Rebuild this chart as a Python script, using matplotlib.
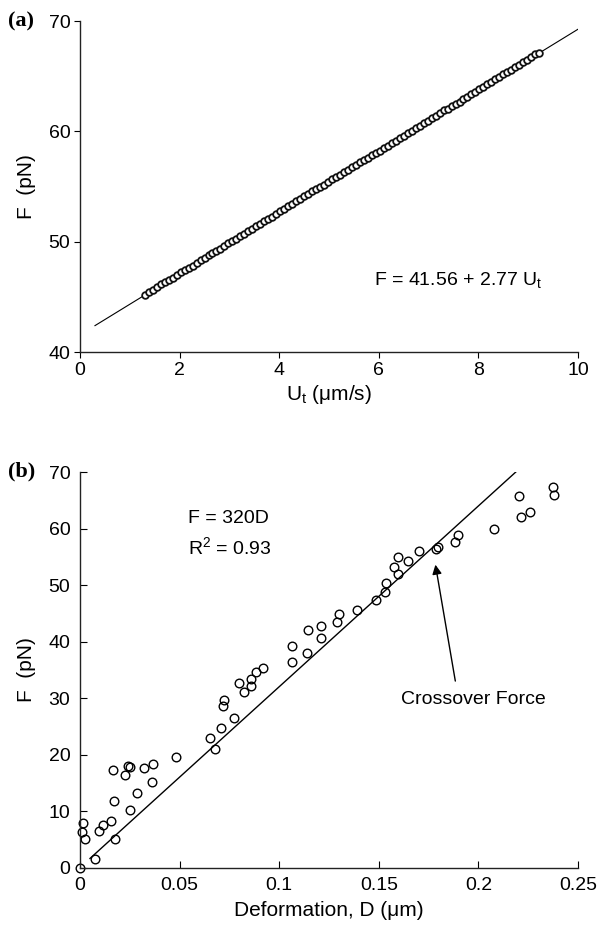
import numpy as np
import matplotlib
matplotlib.use("Agg")
import matplotlib.pyplot as plt

plt.rcParams['font.family'] = ['Liberation Sans', 'DejaVu Sans']
plt.rcParams['mathtext.fontset'] = 'custom'
plt.rcParams['mathtext.rm'] = 'Liberation Sans'

# panel (a): terminal velocity vs force
u_t = [1.30, 1.38, 1.46, 1.54, 1.62, 1.70, 1.78, 1.86, 1.94, 2.02,
       2.10, 2.18, 2.26, 2.34, 2.42, 2.50, 2.58, 2.66, 2.74, 2.82,
       2.90, 2.98, 3.06, 3.14, 3.22, 3.30, 3.38, 3.46, 3.54, 3.62,
       3.70, 3.78, 3.86, 3.94, 4.02, 4.10, 4.18, 4.26, 4.34, 4.42,
       4.50, 4.58, 4.66, 4.74, 4.82, 4.90, 4.98, 5.06, 5.14, 5.22,
       5.30, 5.38, 5.46, 5.54, 5.62, 5.70, 5.78, 5.86, 5.94, 6.02,
       6.10, 6.18, 6.26, 6.34, 6.42, 6.50, 6.58, 6.66, 6.74, 6.82,
       6.90, 6.98, 7.06, 7.14, 7.22, 7.30, 7.38, 7.46, 7.54, 7.62,
       7.70, 7.78, 7.86, 7.94, 8.02, 8.10, 8.18, 8.26, 8.34, 8.42,
       8.50, 8.58, 8.66, 8.74, 8.82, 8.90, 8.98, 9.06, 9.14, 9.22]
f_a = [45.21, 45.40, 45.66, 45.86, 46.13, 46.31, 46.56, 46.73, 47.02, 47.21,
       47.39, 47.64, 47.80, 48.07, 48.32, 48.51, 48.78, 48.96, 49.20, 49.38,
       49.63, 49.89, 50.09, 50.28, 50.55, 50.73, 51.00, 51.18, 51.46, 51.64,
       51.83, 52.09, 52.28, 52.55, 52.82, 52.99, 53.24, 53.41, 53.67, 53.84,
       54.11, 54.28, 54.57, 54.75, 55.00, 55.18, 55.43, 55.70, 55.89, 56.07,
       56.32, 56.50, 56.75, 56.94, 57.19, 57.44, 57.62, 57.87, 58.05, 58.26,
       58.52, 58.71, 58.98, 59.17, 59.43, 59.61, 59.86, 60.04, 60.29, 60.47,
       60.75, 60.94, 61.21, 61.38, 61.64, 61.90, 62.07, 62.32, 62.51, 62.70,
       62.96, 63.15, 63.42, 63.61, 63.88, 64.05, 64.30, 64.48, 64.74, 64.93,
       65.21, 65.39, 65.58, 65.84, 66.03, 66.29, 66.46, 66.72, 66.97, 67.14]
fit_a_x = [0.3, 10.0]
fit_a_intercept = 41.56
fit_a_slope = 2.77

# panel (b): deformation vs force
defo = [0.0, 0.0017, 0.0012, 0.0024, 0.0075, 0.0095, 0.0117, 0.0154, 0.0174, 0.0171,
        0.0164, 0.0226, 0.0239, 0.0251, 0.0249, 0.0288, 0.0323, 0.0360, 0.0366, 0.0482,
        0.0651, 0.0679, 0.0706, 0.0718, 0.0725, 0.0773, 0.0797, 0.0825, 0.0860, 0.0860,
        0.0882, 0.0920, 0.1063, 0.1066, 0.1138, 0.1145, 0.1211, 0.1210, 0.1289, 0.1302,
        0.1392, 0.1488, 0.1533, 0.1538, 0.1598, 0.1576, 0.1595, 0.1648, 0.1702, 0.1787,
        0.1797, 0.1883, 0.1898, 0.2079, 0.2212, 0.2257, 0.2202, 0.2375, 0.2380]
f_b = [0.0, 7.8, 6.3, 5.1, 1.5, 6.5, 7.5, 8.3, 5.1, 11.8,
       17.3, 16.4, 17.9, 17.8, 10.1, 13.2, 17.7, 15.2, 18.3, 19.5,
       23.0, 21.0, 24.7, 28.6, 29.6, 26.5, 32.6, 31.0, 32.1, 33.3,
       34.6, 35.3, 36.4, 39.2, 37.9, 42.0, 42.7, 40.6, 43.4, 44.8,
       45.6, 47.3, 48.7, 50.4, 52.0, 53.2, 55.0, 54.2, 56.1, 56.3,
       56.8, 57.6, 58.9, 60.0, 62.0, 62.9, 65.7, 67.3, 66.0]
fit_b_x = [0.005, 0.21875]
fit_b_slope = 320

fig = plt.figure(figsize=(5.99, 9.31), dpi=100)
ax1 = fig.add_axes([0.1336, 0.6219, 0.8314, 0.3555])
ax2 = fig.add_axes([0.1336, 0.0682, 0.8314, 0.4248])

# ---- (a)
xa = np.array(fit_a_x)
ax1.plot(xa, fit_a_intercept + fit_a_slope * xa, color='black', lw=0.8)
ax1.plot(u_t, f_a, 'o', mfc='white', mec='#111111', ms=4.8, mew=1.3)
ax1.set_xlim(0, 10)
ax1.set_ylim(40, 70)
ax1.set_xticks([0, 2, 4, 6, 8, 10])
ax1.set_yticks([40, 50, 60, 70])
ax1.tick_params(direction='out', length=4, width=0.8, labelsize=14, pad=3)
ax1.set_xlabel(r'$\mathregular{U_t}$ (μm/s)', fontsize=15, labelpad=3)
ax1.set_ylabel('F  (pN)', fontsize=15, labelpad=9)
ax1.text(5.9, 46.5, r'F = 41.56 + 2.77 $\mathregular{U_t}$', fontsize=14, va='center')

# ---- (b)
xb = np.array(fit_b_x)
ax2.plot(xb, fit_b_slope * xb, color='black', lw=1.0)
ax2.plot(defo, f_b, 'o', mfc='none', mec='black', ms=6.2, mew=1.0, clip_on=False)
ax2.set_xlim(0, 0.25)
ax2.set_ylim(0, 70)
ax2.set_xticks([0, 0.05, 0.1, 0.15, 0.2, 0.25])
ax2.set_xticklabels(['0', '0.05', '0.1', '0.15', '0.2', '0.25'])
ax2.set_yticks(range(0, 71, 10))
ax2.tick_params(direction='in', length=5, width=0.8, labelsize=14, pad=7)
ax2.set_xlabel('Deformation, D (μm)', fontsize=15, labelpad=5)
ax2.set_ylabel('F  (pN)', fontsize=15, labelpad=9)
ax2.text(0.054, 61.8, 'F = 320D', fontsize=14, va='center')
ax2.text(0.054, 56.6, r'R$^\mathregular{2}$ = 0.93', fontsize=14, va='center')
ax2.annotate('', xy=(0.1784, 53.6), xytext=(0.1884, 33.0),
             arrowprops=dict(arrowstyle='-|>', color='black', lw=1.0, mutation_scale=14,
                             shrinkA=0, shrinkB=0))
ax2.text(0.1975, 29.7, 'Crossover Force', fontsize=14, ha='center', va='center')

for ax in (ax1, ax2):
    ax.spines['top'].set_visible(False)
    ax.spines['right'].set_visible(False)
    for s in ('left', 'bottom'):
        ax.spines[s].set_linewidth(1.0)
        ax.spines[s].set_color('#222222')

fig.text(0.013, 0.9774, '(a)', fontsize=16, fontweight='bold', family='Liberation Serif', va='center')
fig.text(0.013, 0.4936, '(b)', fontsize=16, fontweight='bold', family='Liberation Serif', va='center')

fig.savefig('out.png', dpi=100)
